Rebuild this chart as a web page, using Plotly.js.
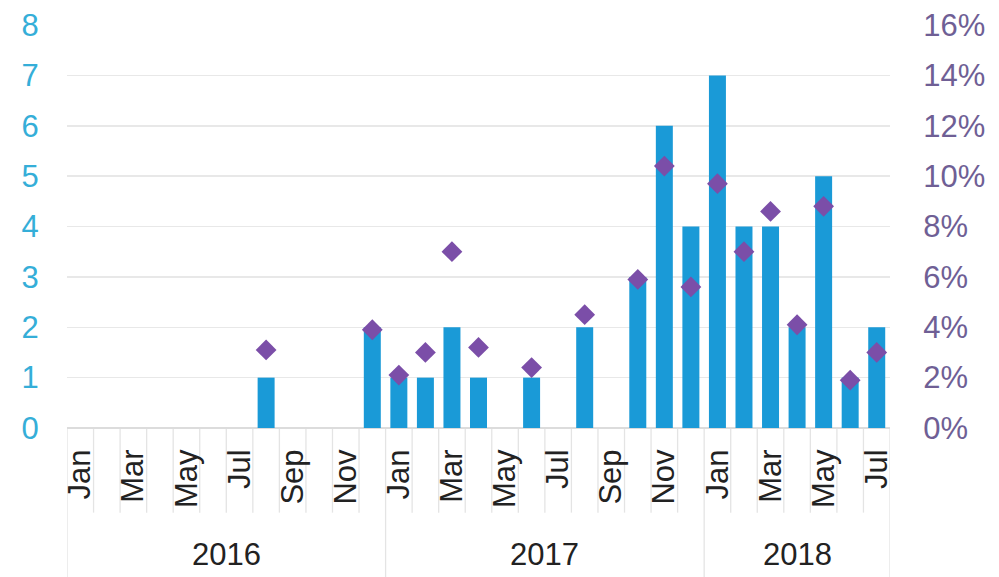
<!DOCTYPE html>
<html>
<head>
<meta charset="utf-8">
<script src="https://cdn.plot.ly/plotly-3.0.1.min.js"></script>
<style>html,body{margin:0;padding:0;background:#fff;}#chart{width:999px;height:577px;}</style>
</head>
<body>
<div id="chart"></div>
<script>
// Data
const years = ["2016","2017","2018"];
const monthsPerYear = [12, 12, 7];
const monthNames = ["Jan","Feb","Mar","Apr","May","Jun","Jul","Aug","Sep","Oct","Nov","Dec"];
// bar counts (left axis), Jan 2016 .. Jul 2018
const counts = [0,0,0,0,0,0,0,1,0,0,0,2,
                1,1,2,1,0,1,0,2,0,3,6,4,
                7,4,4,2,5,1,2];
// share (right axis), null where no marker
const shares = [null,null,null,null,null,null,null,0.031,null,null,null,0.039,
                0.021,0.030,0.070,0.032,null,0.024,null,0.045,null,0.059,0.104,0.056,
                0.097,0.070,0.086,0.041,0.088,0.019,0.030];

const cats = [], tickText = [], yearIdx = [];
years.forEach((y, yi) => {
  for (let m = 0; m < monthsPerYear[yi]; m++) {
    cats.push(y + "-" + monthNames[m]);
    tickText.push(m % 2 === 0 ? monthNames[m] : "");
    yearIdx.push(yi);
  }
});

const FONT = "Liberation Sans, Arial, sans-serif";
const shapes = [];
// divider lines in label area
for (let i = 0; i <= cats.length; i++) {
  const isYear = (i === 0 || i === cats.length || (i < cats.length && yearIdx[i] !== yearIdx[i-1]));
  shapes.push({type:"line", xref:"x", yref:"paper", x0:i-0.5, x1:i-0.5, y0:0, y1: isYear ? -0.37 : -0.21,
    line:{color:"#e4e4e4", width:1.3}, layer:"below"});
}
const annotations = [];
let start = 0;
years.forEach((y, yi) => {
  const n = monthsPerYear[yi];
  annotations.push({xref:"x", yref:"paper", x:start + (n-1)/2, y:-0.315, text:y, showarrow:false,
    xanchor:"center", yanchor:"middle", font:{family:FONT, size:31, color:"#222"}});
  start += n;
});

const traces = [
  {type:"bar", x:cats, y:counts, marker:{color:"#1a9ad7"}, yaxis:"y", hoverinfo:"x+y"},
  {type:"scatter", mode:"markers", x:cats, y:shares, yaxis:"y2",
   marker:{symbol:"diamond", size:16, color:"#7b4ea8"}}
];

const layout = {
  width:999, height:577,
  margin:{l:67, r:109, t:25, b:149},
  paper_bgcolor:"#fff", plot_bgcolor:"#fff",
  showlegend:false,
  bargap:0.36,
  xaxis:{type:"category", range:[-0.5, cats.length-0.5], tickmode:"array", tickvals:cats, ticktext:tickText,
    tickangle:-90, showgrid:false, zeroline:false, showline:false, ticks:"outside", ticklen:8, tickcolor:"rgba(0,0,0,0)",
    tickfont:{family:FONT, size:31, color:"#222"}},
  yaxis:{range:[0,8], dtick:1, showgrid:true, gridcolor:"#e8e8e8", gridwidth:1.5, zeroline:true, zerolinecolor:"#dcdcdc", zerolinewidth:1.5,
    ticks:"outside", ticklen:21, tickcolor:"rgba(0,0,0,0)", tickfont:{family:FONT, size:31, color:"#35aed8"}},
  yaxis2:{overlaying:"y", side:"right", range:[0,0.16], dtick:0.02, tickformat:".0%", showgrid:false, zeroline:false,
    ticks:"outside", ticklen:26, tickcolor:"rgba(0,0,0,0)", tickfont:{family:FONT, size:31, color:"#6f5f95"}},
  shapes:shapes,
  annotations:annotations
};

Plotly.newPlot("chart", traces, layout, {staticPlot:true});
</script>
</body>
</html>
